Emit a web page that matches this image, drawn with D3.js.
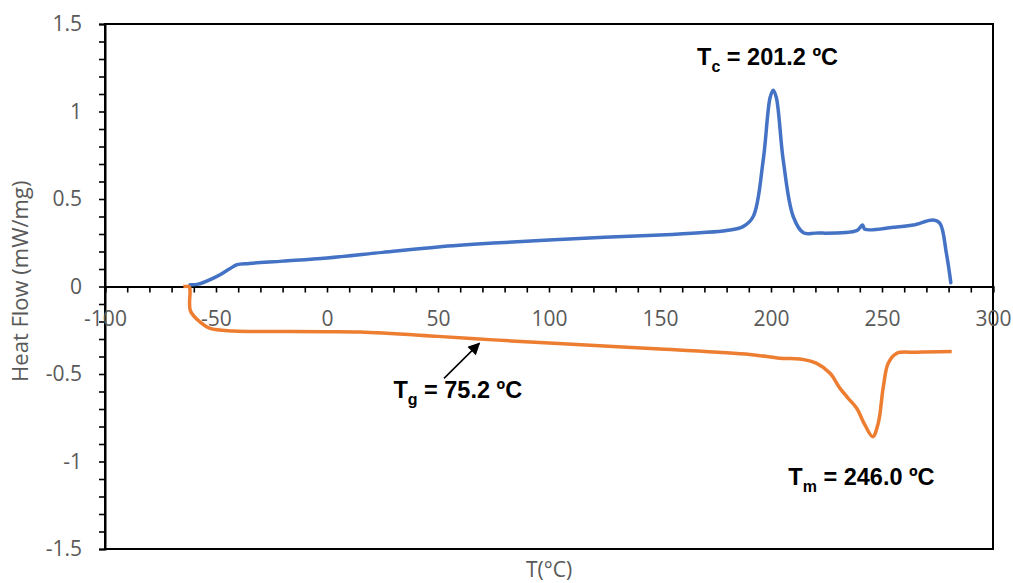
<!DOCTYPE html>
<html><head><meta charset="utf-8">
<script src="https://cdn.jsdelivr.net/npm/d3@7/dist/d3.min.js"></script>
<style>body{margin:0;background:#fff}svg{display:block}</style>
</head><body><svg id="c" width="1013" height="583"></svg>
<script>
// ---- data ----
const blueT  = [-61.7,-58.5,-50,-44,-40.5,-35,-20,0,25,50,75,100,125,150,168,180,187.4,192,196.5,199.6,201,202.4,205.5,210,214.6,220,238.6,241.2,242.3,255,264,273,276.1,279,281];
const blueHF = [0.01,0.012,0.055,0.1,0.125,0.132,0.145,0.163,0.195,0.226,0.248,0.266,0.281,0.294,0.307,0.32,0.342,0.40,0.723,1.08,1.122,1.08,0.723,0.40,0.307,0.305,0.319,0.351,0.327,0.338,0.351,0.38,0.361,0.19,0.022];
const orangeT  = [-64.7,-62.6,-61.9,-61.7,-61.5,-57,-52.7,-42.2,-20,0,15,50,75,100,150,190.5,204,213,220.6,226.6,231.1,234.8,238.6,242.3,245.8,248.3,250.6,252.8,256.6,265.6,281.4];
const orangeHF = [0,0,-0.004,-0.03,-0.14,-0.205,-0.239,-0.254,-0.257,-0.258,-0.26,-0.285,-0.305,-0.323,-0.357,-0.388,-0.41,-0.414,-0.439,-0.496,-0.582,-0.639,-0.696,-0.791,-0.858,-0.782,-0.572,-0.439,-0.382,-0.376,-0.372];
const xTicks = [-100,-50,0,50,100,150,200,250,300];
const yTicks = [-1.5,-1,-0.5,0,0.5,1,1.5];
const xTitle = "T(°C)";
const yTitle = "Heat Flow (mW/mg)";
const annoMain = ["T","T","T"];
const annoSub  = ["c","g","m"];
const annoRest = [" = 201.2 ºC"," = 75.2 ºC"," = 246.0 ºC"];
const annoX = [166.7, 29.9, 207.8];
const annoY = [1.266, -0.639, -1.134];
const arrowFrom = [52.7, -0.525];
const arrowTo   = [68.6, -0.325];

// ---- layout ----
const L=105, R=993, T=24, B=549;
const svg = d3.select("#c");
const x = d3.scaleLinear().domain([-100,300]).range([L,R]);
const y = d3.scaleLinear().domain([-1.5,1.5]).range([B,T]);
const grey="#595959", font="'Open Sans', Lato, sans-serif";
const fmt = v => String(Math.round(v*10)/10).replace("\u2212","-");

// frame
svg.append("rect").attr("x",L).attr("y",T).attr("width",R-L).attr("height",B-T)
  .attr("fill","none").attr("stroke","#000").attr("stroke-width",2);

// y axis (minor ticks every 0.1)
const yAxis = d3.axisLeft(y).tickValues(d3.range(-15,16).map(d=>d/10))
  .tickSize(6).tickFormat(d=> yTicks.some(t=>Math.abs(t-d)<1e-9) ? fmt(d) : "");
const gy = svg.append("g").attr("transform",`translate(${L},0)`).call(yAxis);
gy.select(".domain").attr("stroke","#000").attr("stroke-width",2);
gy.selectAll(".tick line").attr("stroke","#000").attr("stroke-width",1.6);
gy.selectAll(".tick text").attr("fill",grey).attr("font-family",font).attr("font-size",21).attr("x",-23);

// x axis at y=0 (minor every 10)
const xAxis = d3.axisBottom(x).tickValues(d3.range(-100,301,10)).tickSizeOuter(0)
  .tickSize(6).tickFormat(d=> xTicks.includes(d) ? fmt(d) : "");
const gx = svg.append("g").attr("transform",`translate(0,${y(0)})`).call(xAxis);
gx.select(".domain").attr("stroke","#000").attr("stroke-width",2);
gx.selectAll(".tick line").attr("stroke","#000").attr("stroke-width",1.6);
gx.selectAll(".tick text").attr("fill",grey).attr("font-family",font).attr("font-size",21).attr("dy",0).attr("y",39);

// titles
svg.append("text").attr("x",549).attr("y",577).attr("text-anchor","middle")
  .attr("fill",grey).attr("font-family",font).attr("font-size",21).text(xTitle);
svg.append("text").attr("transform",`translate(28,${y(0.03)}) rotate(-90)`).attr("text-anchor","middle")
  .attr("fill",grey).attr("font-family",font).attr("font-size",22).text(yTitle);

// curves
const line = d3.line().curve(d3.curveCatmullRom.alpha(0.5));
svg.append("path").attr("d",line(blueT.map((t,i)=>[x(t),y(blueHF[i])])))
  .attr("fill","none").attr("stroke","#4472C4").attr("stroke-width",3.5).attr("stroke-linejoin","round").attr("stroke-linecap","round");
svg.append("path").attr("d",line(orangeT.map((t,i)=>[x(t),y(orangeHF[i])])))
  .attr("fill","none").attr("stroke","#ED7D31").attr("stroke-width",3.5).attr("stroke-linejoin","round").attr("stroke-linecap","butt");

// annotations
annoMain.forEach((m,i)=>{
  const t = svg.append("text").attr("x",x(annoX[i])).attr("y",y(annoY[i]))
    .attr("font-family","'Liberation Sans', Arial, sans-serif").attr("font-weight","bold").attr("font-size",23.5).attr("fill","#000");
  t.append("tspan").text(m);
  t.append("tspan").attr("font-size",16).attr("dy",7).text(annoSub[i]);
  t.append("tspan").attr("dy",-7).text(annoRest[i]);
});
// arrow
svg.append("defs").append("marker").attr("id","ah").attr("viewBox","0 0 10 10").attr("refX",9).attr("refY",5)
  .attr("markerWidth",13).attr("markerHeight",12).attr("markerUnits","userSpaceOnUse").attr("orient","auto")
  .append("path").attr("d","M0,0L10,5L0,10Z").attr("fill","#000");
svg.append("line").attr("x1",x(arrowFrom[0])).attr("y1",y(arrowFrom[1])).attr("x2",x(arrowTo[0])).attr("y2",y(arrowTo[1]))
  .attr("stroke","#000").attr("stroke-width",1.5).attr("marker-end","url(#ah)");
</script></body></html>
